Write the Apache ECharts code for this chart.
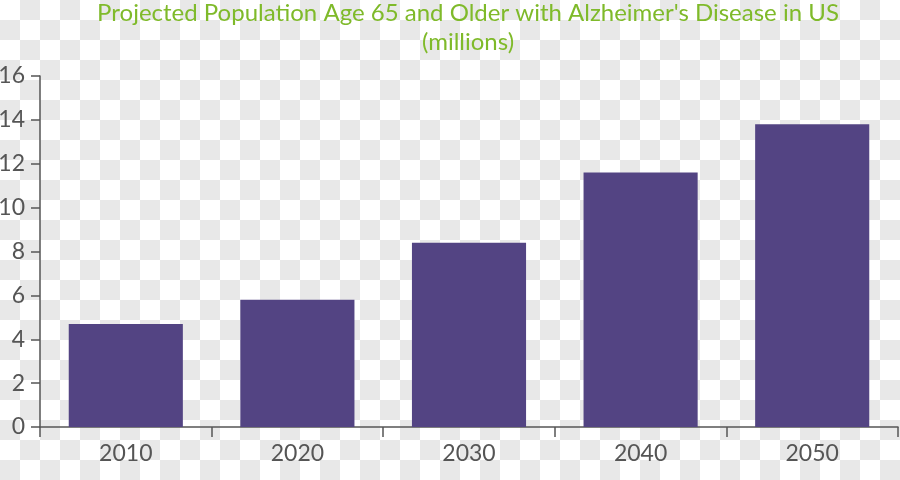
<!DOCTYPE html>
<html>
<head>
<meta charset="utf-8">
<script src="https://cdn.jsdelivr.net/npm/echarts@6/dist/echarts.min.js"></script>
<style>
html,body{margin:0;padding:0;background:#fff;}
#c{width:900px;height:480px;}
</style>
</head>
<body>
<div id="c"></div>
<script>
const categories = ['2010', '2020', '2030', '2040', '2050'];
const values = [4.7, 5.8, 8.4, 11.6, 13.8];
const titleText = "Projected Population Age 65 and Older with Alzheimer's Disease in US\n(millions)";

// checkerboard (transparency) background squares – decoration only
const checker = [];
const SQ = 20;
for (let r = 0; r < Math.ceil(480 / SQ); r++) {
  for (let c = 0; c < Math.ceil(900 / SQ); c++) {
    if ((r + c) % 2 === 1) {
      checker.push({
        type: 'rect', silent: true, z: -100,
        shape: {x: c * SQ, y: r * SQ, width: SQ, height: SQ},
        style: {fill: '#e8e8e8'}
      });
    }
  }
}

const chart = echarts.init(document.getElementById('c'), null, {renderer: 'canvas'});
chart.setOption({
  backgroundColor: '#ffffff',
  animation: false,
  title: {
    text: titleText,
    left: 468,
    top: -1,
    padding: 0,
    textAlign: 'center',
    textStyle: {
      color: '#7fba2a',
      fontFamily: 'Lato',
      fontWeight: 'normal',
      fontSize: 24,
      lineHeight: 29
    }
  },
  grid: {left: 40, right: 2, top: 76, bottom: 53, containLabel: false, outerBoundsMode: 'none'},
  xAxis: {
    type: 'category',
    data: categories,
    axisLine: {lineStyle: {color: '#555', width: 1.5}},
    axisTick: {show: true, length: 10, lineStyle: {color: '#555', width: 1.5}},
    axisLabel: {color: '#555', fontFamily: 'Lato', fontSize: 23, margin: 15}
  },
  yAxis: {
    type: 'value',
    min: 0, max: 16, interval: 2,
    splitLine: {show: false},
    axisLine: {show: true, lineStyle: {color: '#555', width: 1.5}},
    axisTick: {show: true, length: 9, lineStyle: {color: '#555', width: 1.5}},
    axisLabel: {color: '#555', fontFamily: 'Lato', fontSize: 23, margin: 15}
  },
  series: [{
    type: 'bar',
    data: values,
    barWidth: '66.5%',
    itemStyle: {color: '#534483'}
  }],
  graphic: checker
});
</script>
</body>
</html>
